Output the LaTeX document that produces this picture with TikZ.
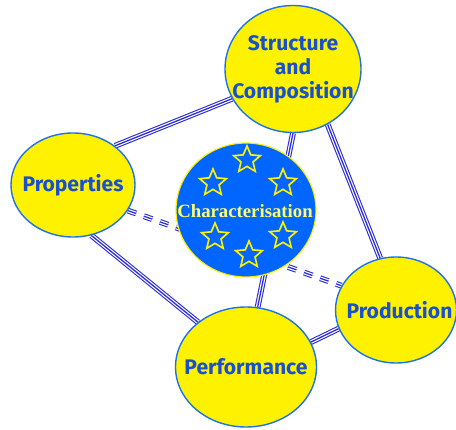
\documentclass[tikz,border=0pt]{standalone}
\usepackage{fontspec}
\usetikzlibrary{shapes.geometric}
\usetikzlibrary{backgrounds}
\newfontfamily\labelfont{Fira Sans}
\newfontfamily\charfont{Liberation Serif}
\definecolor{linkblue}{RGB}{45,45,215}
\definecolor{rimblue}{RGB}{30,115,230}
\definecolor{textblue}{RGB}{25,80,205}
\definecolor{discblue}{RGB}{0,102,255}
\definecolor{paleyellow}{RGB}{255,255,110}

\begin{document}
\begin{tikzpicture}[x=0.03cm, y=-0.03cm]
        % ================= styles =================
        \tikzset{
            % yellow ellipse with blue rim
            topic/.style={ellipse, draw=rimblue, line width=1.2pt, fill=yellow, inner sep=0pt},
            % its text
            topic_text/.style={font=\labelfont\bfseries\fontsize{18}{20.5}\selectfont, text=textblue,
                align=center, inner sep=0pt},
            % central disc
            core/.style={ellipse, draw=yellow, line width=1pt, fill=discblue, inner sep=0pt,
                minimum width=4.2cm, minimum height=4.02cm},
            % small star on the disc
            flag_star/.style={star, star points=5, star point ratio=2.2, draw=yellow, fill=discblue,
                line width=1.4pt, minimum size=0.84cm, inner sep=0pt},
            % triple link: blue / white / blue
            link/.style={draw=linkblue, line width=5pt,
                postaction={draw=white, line width=3.1pt},
                postaction={draw=linkblue, line width=1.1pt}},
            dashed_link/.style={link, dash pattern=on 7.5pt off 7pt}
        }

        \useasboundingbox (0,0) rectangle (456,430);

        % ================= nodes =================
        \node[topic, minimum width=4.08cm, minimum height=3.81cm,
            label={[topic_text]center:Structure\\and\\Composition}] (str) at (293,69) {};
        \node[topic, minimum width=3.72cm, minimum height=3.12cm,
            label={[topic_text]center:Properties}] (prop) at (73,185) {};
        \node[topic, minimum width=3.63cm, minimum height=3.18cm,
            label={[topic_text, xshift=3pt]center:Production}] (prod) at (396,310) {};
        \node[topic, minimum width=4.23cm, minimum height=3.6cm,
            label={[topic_text]center:Performance}] (perf) at (246,367) {};

        \node[core] (char) at (246,210) {};
        \foreach \x/\y [count=\k] in {247/160, 213/183, 283/183, 215/237, 283/236, 249/255} {
            \node[flag_star] (s\k) at (\x,\y) {};
        }
        \node[font=\charfont\bfseries\fontsize{16}{18}\selectfont, text=paleyellow, inner sep=0pt]
            (charlabel) at (245,211) {Characterisation};

        % ================= links (behind) =================
        \begin{pgfonlayer}{background}
            \draw[link] (prop.43) -- (str.-154);
            \draw[link] (prop.-70) -- (perf.137);
            \draw[link] (str.-58) -- (prod.107);
            \draw[link] (prod.-162) -- (perf.21);
            \draw[link] (str.-90) -- (perf.79);
            \draw[dashed_link] (prop.-25) -- (prod.156);
        \end{pgfonlayer}

    \end{tikzpicture}
\end{document}
